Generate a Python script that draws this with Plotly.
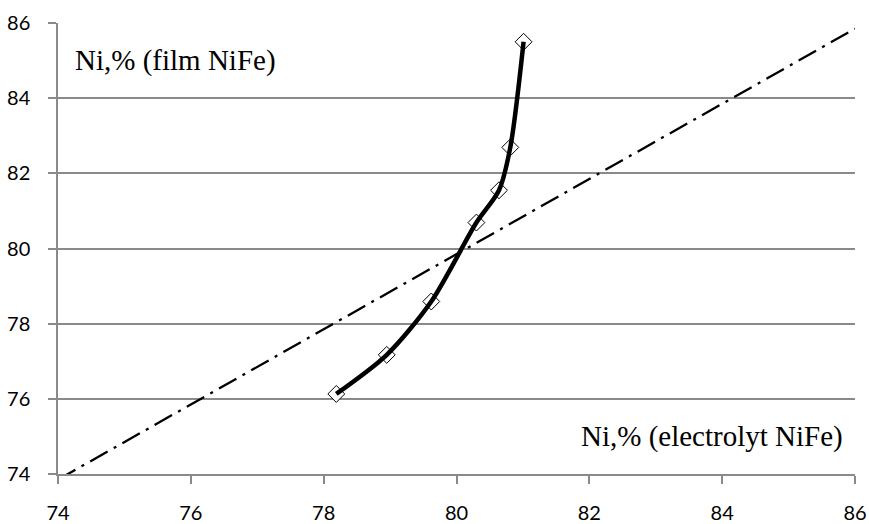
import plotly.graph_objects as go

# Data
x_electrolyte = [78.19, 78.95, 79.62, 80.30, 80.64, 80.81, 81.01]
y_film = [76.13, 77.17, 78.59, 80.69, 81.55, 82.69, 85.50]

ref_x = [74.0, 86.0]
ref_y = [73.85, 85.85]

x_ticks = [74, 76, 78, 80, 82, 84, 86]
y_ticks = [74, 76, 78, 80, 82, 84, 86]

label_film = "Ni,% (film NiFe)"
label_electrolyte = "Ni,% (electrolyt NiFe)"

fig = go.Figure()

fig.add_trace(go.Scatter(
    x=ref_x, y=ref_y, mode="lines",
    line=dict(color="black", width=2.3, dash="20px,7px,3px,7px"),
    showlegend=False, hoverinfo="skip"))

fig.add_trace(go.Scatter(
    x=x_electrolyte, y=y_film, mode="markers",
    marker=dict(symbol="diamond", size=13, color="white",
                line=dict(color="black", width=1)),
    showlegend=False))

fig.add_trace(go.Scatter(
    x=x_electrolyte, y=y_film, mode="lines",
    line=dict(color="black", width=4.5, shape="spline", smoothing=0.8),
    showlegend=False))

fig.add_annotation(x=74.23, y=85.0, xref="x", yref="y", text=label_film,
                   showarrow=False, xanchor="left", yanchor="middle",
                   font=dict(family="Liberation Serif", size=29, color="black"))
fig.add_annotation(x=85.85, y=75.0, xref="x", yref="y", text=label_electrolyte,
                   showarrow=False, xanchor="right", yanchor="middle",
                   font=dict(family="Liberation Serif", size=29, color="black"))

axis_font = dict(family="Lato", size=20, color="black")

fig.update_xaxes(range=[74, 86], tickvals=x_ticks, ticktext=[str(v) for v in x_ticks],
                 showgrid=False, zeroline=False, showline=True, linecolor="#8a8a8a",
                 linewidth=1.5, ticks="outside", ticklen=8, tickcolor="#8a8a8a",
                 tickwidth=1.5, tickfont=axis_font, ticklabelstandoff=12,
                 automargin=False)
fig.update_yaxes(range=[74, 86], tickvals=y_ticks, ticktext=[str(v) for v in y_ticks],
                 showgrid=True, gridcolor="#8a8a8a", gridwidth=1.5, zeroline=False,
                 showline=True, linecolor="#8a8a8a", linewidth=1.5,
                 ticks="outside", ticklen=8, tickcolor="#8a8a8a", tickwidth=1.5,
                 tickfont=axis_font, ticklabelstandoff=14, automargin=False)

fig.update_layout(width=869, height=524, plot_bgcolor="white", paper_bgcolor="white",
                  margin=dict(l=58, r=14, t=23, b=50))

fig.write_html("out.html")
